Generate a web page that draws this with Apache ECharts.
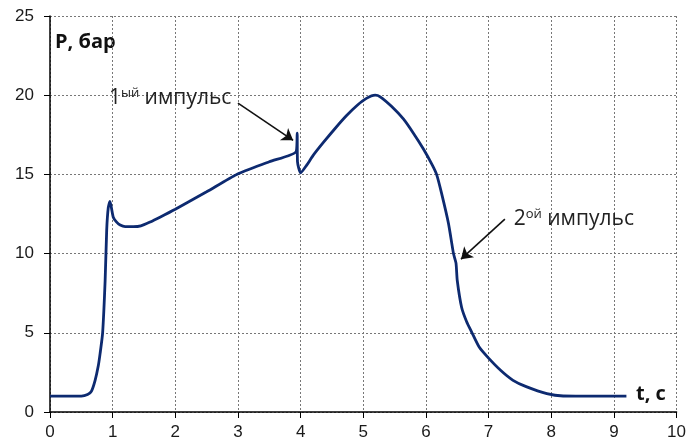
<!DOCTYPE html>
<html>
<head>
<meta charset="utf-8">
<script src="https://cdn.jsdelivr.net/npm/echarts@6/dist/echarts.min.js"></script>
<style>
html,body{margin:0;padding:0;background:#fff;}
#c{width:689px;height:446px;}
</style>
</head>
<body>
<div id="c"></div>
<script>
const timeS = [0, 0.3, 0.5, 0.6, 0.66, 0.72, 0.77, 0.80, 0.84, 0.88, 0.905, 0.93, 0.957, 0.98, 1.01, 1.06, 1.12, 1.2, 1.33, 1.45, 1.6, 1.755, 2.0, 2.5, 2.98, 3.5, 3.93, 3.945, 3.95, 4.0, 4.1, 4.2, 4.36, 4.55, 4.73, 4.9, 5.05, 5.19, 5.27, 5.45, 5.64, 5.8, 5.96, 6.1, 6.17, 6.25, 6.36, 6.44, 6.48, 6.5, 6.57, 6.65, 6.73, 6.85, 7.0, 7.2, 7.39, 7.6, 7.93, 8.19, 8.5, 9.2];
const pressure = [1.0, 1.0, 1.0, 1.1, 1.3, 2.0, 2.9, 3.7, 5.0, 8.3, 11.5, 12.9, 13.3, 12.9, 12.3, 12.0, 11.8, 11.7, 11.7, 11.75, 12.0, 12.3, 12.8, 13.9, 15.0, 15.8, 16.45, 17.6, 15.8, 15.1, 15.6, 16.2, 17.0, 17.9, 18.7, 19.35, 19.8, 20.0, 19.9, 19.3, 18.5, 17.6, 16.6, 15.6, 15.0, 13.8, 11.9, 10.0, 9.4, 8.3, 6.6, 5.7, 5.05, 4.1, 3.4, 2.6, 2.0, 1.6, 1.16, 1.01, 1.0, 1.0];
const xTicks = [0,1,2,3,4,5,6,7,8,9,10];
const yTicks = [0,5,10,15,20,25];
const pulse1Label = ['1', 'ый', ' импульс'];
const pulse2Label = ['2', 'ой', ' импульс'];
const pulse1Text = [0.94, 19.85];
const pulse1Arrow = [[3.0, 19.5], [3.88, 17.15]];
const pulse2Text = [7.4, 12.2];
const pulse2Arrow = [[7.26, 12.18], [6.56, 9.65]];
const yName = 'P, бар';
const xName = 't, c';

const data = timeS.map((t, i) => [t, pressure[i]]);
const textFont = '"Open Sans", "Noto Sans", sans-serif';
const rich = {
  a: {fontSize: 21, fontFamily: textFont, color: '#222', verticalAlign: 'bottom'},
  b: {fontSize: 13, fontFamily: textFont, color: '#222', verticalAlign: 'top'}
};
function richLabel(parts){ return '{a|' + parts[0] + '}{b|' + parts[1] + '}{a|' + parts[2] + '}'; }

const chart = echarts.init(document.getElementById('c'));
chart.setOption({
  animation: false,
  backgroundColor: '#fff',
  grid: {left: 50, right: 12, top: 16, bottom: 34, containLabel: false},
  xAxis: {
    type: 'value', min: 0, max: 10, interval: 1,
    axisLine: {show: true, onZero: false, lineStyle: {color: '#000', width: 1.5}},
    axisTick: {show: true, length: 6, lineStyle: {color: '#000', width: 1}},
    axisLabel: {color: '#1a1a1a', fontSize: 17, fontFamily: '"Liberation Sans", Arial, sans-serif', margin: 12,
      formatter: v => xTicks.includes(v) ? String(v) : ''},
    splitLine: {show: true, lineStyle: {color: '#777', type: [2, 2], width: 1}}
  },
  yAxis: {
    type: 'value', min: 0, max: 25, interval: 5,
    axisLine: {show: true, onZero: false, lineStyle: {color: '#000', width: 1.5}},
    axisTick: {show: true, length: 6, lineStyle: {color: '#000', width: 1}},
    axisLabel: {color: '#1a1a1a', fontSize: 17, fontFamily: '"Liberation Sans", Arial, sans-serif', margin: 16,
      formatter: v => yTicks.includes(v) ? String(v) : ''},
    splitLine: {show: true, lineStyle: {color: '#777', type: [2, 2], width: 1}}
  },
  graphic: [
    {type: 'text', left: 55, top: 32, style: {text: yName, fontSize: 20, fontWeight: 'bold', fontFamily: textFont, fill: '#111'}},
    {type: 'text', left: 636, top: 384, style: {text: xName, fontSize: 20, fontWeight: 'bold', fontFamily: textFont, fill: '#111'}}
  ],
  series: [{
    type: 'line',
    data: data,
    showSymbol: false,
    smooth: 0.2,
    lineStyle: {color: '#0d2a70', width: 2.8},
    z: 3,
    markLine: {
      silent: true,
      symbol: ['none', 'arrow'],
      symbolSize: 11,
      lineStyle: {color: '#111', width: 1.6, type: 'solid'},
      itemStyle: {color: '#111'},
      label: {show: false},
      data: [
        [{coord: pulse1Arrow[0]}, {coord: pulse1Arrow[1]}],
        [{coord: pulse2Arrow[0]}, {coord: pulse2Arrow[1]}]
      ]
    },
    markPoint: {
      silent: true,
      symbol: 'circle',
      symbolSize: 0,
      itemStyle: {color: 'transparent'},
      data: [
        {coord: pulse1Text, label: {show: true, position: 'right', distance: 0, formatter: richLabel(pulse1Label), rich: rich}},
        {coord: pulse2Text, label: {show: true, position: 'right', distance: 0, formatter: richLabel(pulse2Label), rich: rich}}
      ]
    }
  }]
});
</script>
</body>
</html>
